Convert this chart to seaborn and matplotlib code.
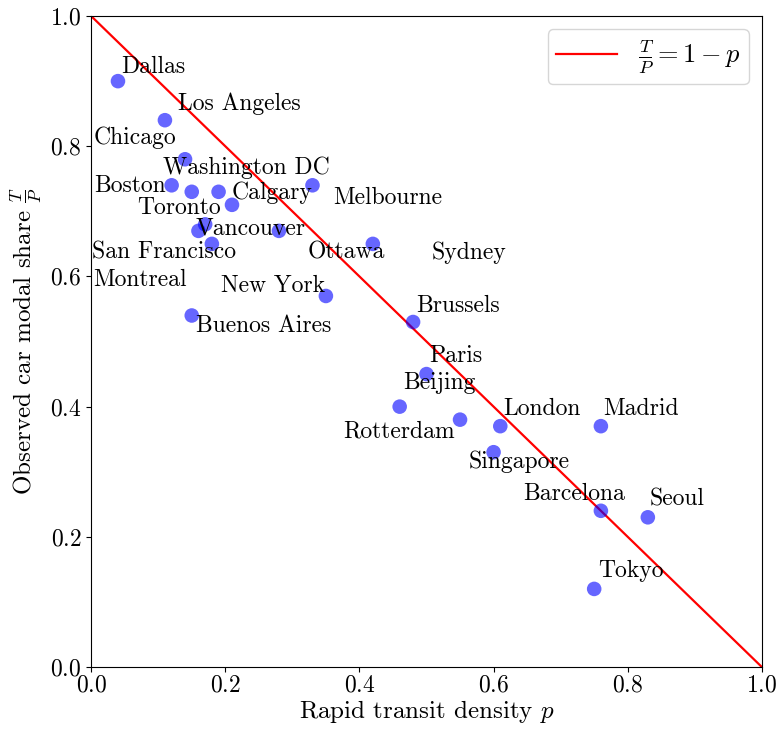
import matplotlib
matplotlib.use("Agg")
import matplotlib.pyplot as plt
import seaborn as sns
import pandas as pd

# city data: rapid transit density p and observed car modal share T/P
cities = ["Dallas", "Los Angeles", "Chicago", "Boston", "Toronto", "Washington DC",
          "Calgary", "Melbourne", "Vancouver", "San Francisco", "Montreal", "Sydney",
          "Ottawa", "New York", "Buenos Aires", "Brussels", "Paris", "Beijing",
          "Rotterdam", "London", "Madrid", "Singapore", "Barcelona", "Seoul", "Tokyo"]
density = [0.04, 0.11, 0.14, 0.12, 0.15, 0.19,
           0.21, 0.33, 0.17, 0.16, 0.18, 0.28,
           0.42, 0.35, 0.15, 0.48, 0.50, 0.46,
           0.55, 0.61, 0.76, 0.60, 0.76, 0.83, 0.75]
car_share = [0.90, 0.84, 0.78, 0.74, 0.73, 0.73,
             0.71, 0.74, 0.68, 0.67, 0.65, 0.67,
             0.65, 0.57, 0.54, 0.53, 0.45, 0.40,
             0.38, 0.37, 0.37, 0.33, 0.24, 0.23, 0.12]

# where the labels ended up after being pushed apart
label_x = [0.045, 0.13, 0.003, 0.004, 0.069, 0.107,
           0.21, 0.361, 0.156, 0.0015, 0.003, 0.507,
           0.323, 0.194, 0.156, 0.484, 0.504, 0.465,
           0.376, 0.614, 0.763, 0.563, 0.644, 0.832, 0.756]
label_y = [0.913, 0.855, 0.804, 0.729, 0.696, 0.757,
           0.719, 0.711, 0.664, 0.627, 0.586, 0.627,
           0.627, 0.576, 0.514, 0.546, 0.468, 0.427,
           0.352, 0.387, 0.387, 0.306, 0.257, 0.248, 0.138]

# theory line T/P = 1 - p
line_p = [0.0, 1.0]
line_tp = [1.0, 0.0]

df = pd.DataFrame({"p": density, "tp": car_share, "city": cities})

plt.rcParams["font.family"] = "cmr10"
plt.rcParams["mathtext.fontset"] = "cm"
plt.rcParams["axes.formatter.use_mathtext"] = True
plt.rcParams["font.size"] = 17

fig, ax = plt.subplots(figsize=(7.79, 7.29), dpi=100)
fig.subplots_adjust(left=0.117, right=0.978, top=0.978, bottom=0.085)

sns.scatterplot(data=df, x="p", y="tp", ax=ax, color="blue", alpha=0.6,
                s=110, edgecolor="none", zorder=3)
sns.lineplot(x=line_p, y=line_tp, ax=ax, color="red", linewidth=1.6,
             label=r"$\frac{T}{P} = 1 - p$")

for name, tx, ty in zip(cities, label_x, label_y):
    ax.text(tx, ty, name, fontsize=17, zorder=4)

ax.set_xlim(0, 1)
ax.set_ylim(0, 1)
ax.set_xlabel(r"Rapid transit density $p$", fontsize=18, labelpad=1)
ax.set_ylabel(r"Observed car modal share $\frac{T}{P}$", fontsize=18)
ax.tick_params(labelsize=17)
ax.tick_params(axis="x", pad=2)
ax.legend(loc="upper right", fontsize=19, borderpad=0.3, handlelength=2.3)

plt.savefig("out.png", dpi=100)
plt.close()
